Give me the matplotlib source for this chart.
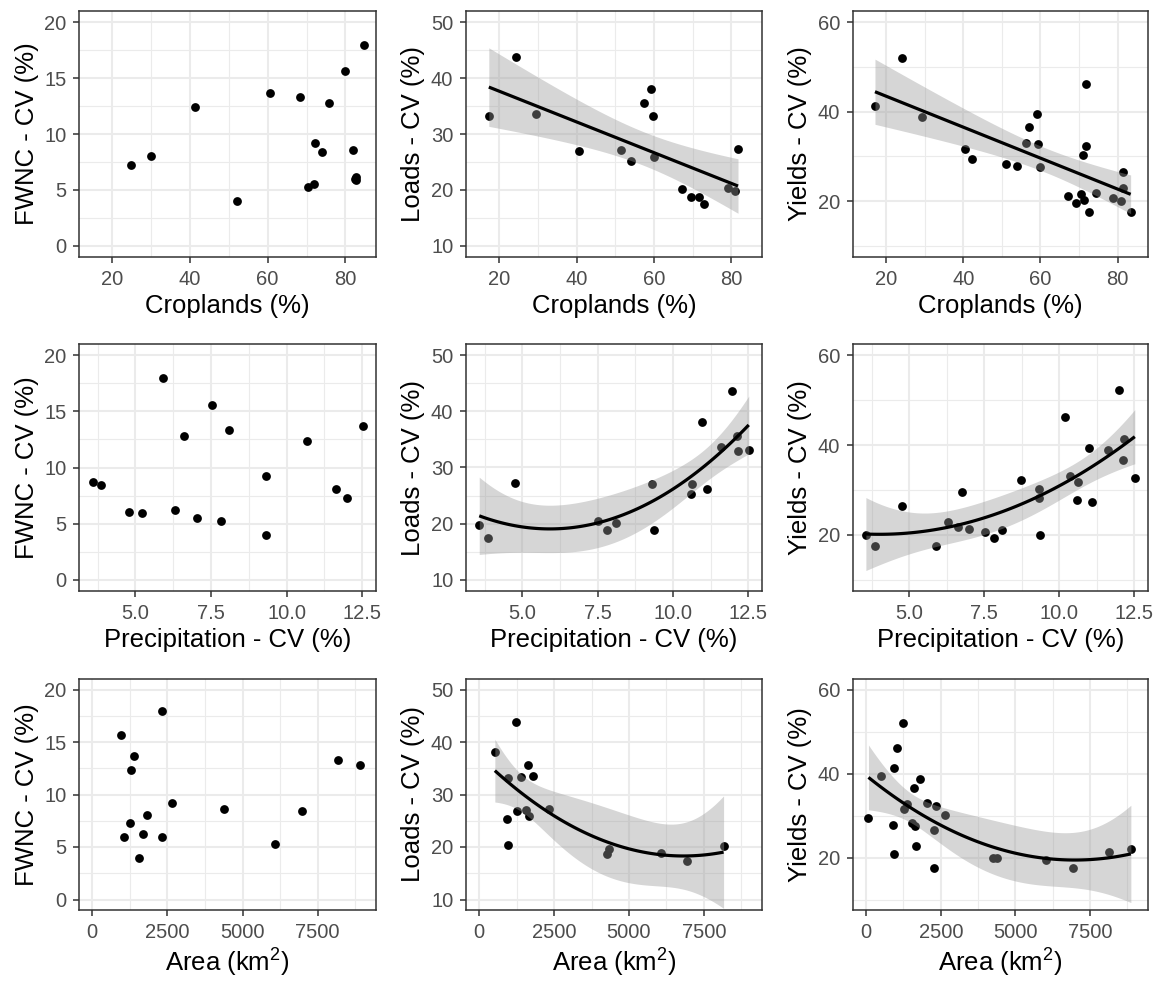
#!/usr/bin/env python3

import numpy as np
import matplotlib
matplotlib.use("Agg")
import matplotlib.pyplot as plt
from matplotlib.ticker import FixedLocator

plt.rcParams['font.family'] = ['Liberation Sans', 'DejaVu Sans']
plt.rcParams['mathtext.fontset'] = 'custom'
plt.rcParams['mathtext.rm'] = 'Liberation Sans'
plt.rcParams['mathtext.it'] = 'Liberation Sans'

# ---- data ----
# FWNC - CV (%)
fwnc_crop_x = [24.8, 30.0, 41.2, 52.2, 60.5, 68.3, 75.7, 80.0, 84.7, 72.2, 73.9, 81.9, 70.3, 72.0, 82.7, 82.7, 82.5]
fwnc_crop_y = [7.27, 8.04, 12.37, 3.98, 13.65, 13.32, 12.79, 15.61, 17.98, 9.2, 8.4, 8.6, 5.22, 5.52, 6.14, 5.9, 6.0]
fwnc_prec_x = [3.58, 3.86, 4.78, 5.20, 5.90, 6.31, 6.62, 7.03, 7.54, 7.84, 8.10, 9.32, 9.32, 10.67, 11.63, 12.0, 12.54]
fwnc_prec_y = [8.67, 8.4, 6.0, 5.95, 17.96, 6.2, 12.8, 5.53, 15.6, 5.24, 13.34, 9.23, 3.99, 12.4, 8.1, 7.28, 13.7]
fwnc_area_x = [971, 1060, 1250, 1283, 1395, 1540, 1674, 1808, 2310, 2310, 2667, 4397, 6082, 6975, 8191, 8906]
fwnc_area_y = [15.64, 5.94, 7.27, 12.35, 13.65, 3.95, 6.22, 8.06, 17.98, 5.97, 9.23, 8.6, 5.24, 8.4, 13.3, 12.8]

# Loads - CV (%)
loads_crop_x = [17.3, 24.3, 29.5, 40.7, 51.5, 54.0, 57.3, 59.3, 59.7, 60.1, 67.2, 69.5, 71.6, 73.0, 79.0, 81.0, 81.7]
loads_crop_y = [33.15, 43.7, 33.56, 26.97, 27.1, 25.1, 35.6, 38.1, 33.3, 25.9, 20.15, 18.8, 18.8, 17.4, 20.3, 19.85, 27.3]
loads_prec_x = [3.57, 3.86, 4.77, 7.53, 7.82, 8.10, 9.30, 9.37, 10.59, 10.65, 10.98, 11.13, 11.60, 11.98, 12.12, 12.17, 12.52]
loads_prec_y = [19.76, 17.4, 27.3, 20.5, 18.8, 20.2, 27.1, 18.8, 25.2, 27.1, 38.1, 26.1, 33.6, 43.7, 35.6, 33.0, 33.1]
loads_area_x = [523, 968, 913, 968, 1224, 1258, 1380, 1547, 1625, 1658, 1803, 2315, 4252, 4341, 6055, 6945, 8158]
loads_area_y = [38.1, 33.2, 25.3, 20.4, 43.9, 26.9, 33.4, 27.1, 35.6, 26.0, 33.6, 27.3, 18.7, 19.6, 18.85, 17.4, 20.1]

# Yields - CV (%)
yields_crop_x = [17.1, 24.1, 29.3, 40.4, 42.3, 51.2, 53.8, 56.3, 57.1, 59.1, 59.5, 60.0, 67.1, 69.1, 70.6,
                 71.1, 71.4, 71.7, 71.9, 72.6, 74.5, 78.7, 80.8, 81.5, 81.5, 83.4]
yields_crop_y = [41.26, 52.1, 38.8, 31.6, 29.5, 28.2, 27.9, 33.0, 36.6, 39.4, 32.7, 27.6, 21.2, 19.6, 21.6,
                 30.3, 20.2, 46.1, 32.3, 17.6, 21.9, 20.8, 20.0, 26.5, 23.0, 17.6]
yields_prec_x = [3.56, 3.86, 4.77, 5.88, 6.29, 6.63, 6.77, 7.0, 7.53, 7.82, 8.10, 8.72, 9.33, 9.33, 9.37,
                 10.21, 10.37, 10.59, 10.64, 10.98, 11.09, 11.62, 11.98, 12.16, 12.13, 12.52]
yields_prec_y = [20.0, 17.5, 26.5, 17.5, 22.8, 21.7, 29.5, 21.4, 20.7, 19.3, 21.0, 32.3, 30.3, 28.1, 20.0,
                 46.2, 33.0, 27.8, 31.7, 39.3, 27.4, 39.0, 52.2, 41.4, 36.7, 32.7]
yields_area_x = [78, 511, 889, 944, 944, 1044, 1222, 1255, 1378, 1522, 1611, 1644, 1667, 1800, 2033,
                 2289, 2289, 2344, 2644, 4233, 4378, 6022, 6933, 8133, 8866]
yields_area_y = [29.4, 39.3, 27.7, 41.2, 20.8, 46.1, 52.0, 31.6, 32.7, 28.2, 36.5, 27.4, 22.8, 38.7, 33.0,
                 26.5, 17.6, 32.3, 30.2, 20.0, 20.0, 19.3, 17.6, 21.2, 22.0]

x_labels = ['Croplands (%)', 'Precipitation - CV (%)', 'Area (km$^{2}$)']
y_labels = ['FWNC - CV (%)', 'Loads - CV (%)', 'Yields - CV (%)']

x_ticks = [[20, 40, 60, 80], [5.0, 7.5, 10.0, 12.5], [0, 2500, 5000, 7500]]
x_tick_labels = [['20', '40', '60', '80'], ['5.0', '7.5', '10.0', '12.5'], ['0', '2500', '5000', '7500']]
x_minor = [[30, 50, 70], [3.75, 6.25, 8.75, 11.25], [1250, 3750, 6250, 8750]]
x_lims = [(11.4, 87.9), (3.13, 12.96), (-440, 9440)]

y_ticks = [[0, 5, 10, 15, 20], [10, 20, 30, 40, 50], [20, 40, 60]]
y_minor = [[2.5, 7.5, 12.5, 17.5], [15, 25, 35, 45], [10, 30, 50]]
y_lims = [(-1, 21), (8, 52), (7.5, 62.5)]

# degree of geom_smooth fit (None = no fit)
fit_deg = [[None, 1, 1], [None, 2, 2], [None, 2, 2]]

panels = [
    [(fwnc_crop_x, fwnc_crop_y), (loads_crop_x, loads_crop_y), (yields_crop_x, yields_crop_y)],
    [(fwnc_prec_x, fwnc_prec_y), (loads_prec_x, loads_prec_y), (yields_prec_x, yields_prec_y)],
    [(fwnc_area_x, fwnc_area_y), (loads_area_x, loads_area_y), (yields_area_x, yields_area_y)],
]


def tq(df):
    # 97.5% t quantile (Cornish-Fisher expansion)
    z = 1.959964
    return z + (z**3 + z) / (4 * df) + (5 * z**5 + 16 * z**3 + 3 * z) / (96 * df**2)


def smooth(ax, x, y, deg):
    x = np.asarray(x, float)
    y = np.asarray(y, float)
    m, sd = x.mean(), x.std()
    X = np.vander((x - m) / sd, deg + 1)
    beta = np.linalg.lstsq(X, y, rcond=None)[0]
    n, p = X.shape
    res = y - X @ beta
    s2 = res @ res / (n - p)
    cov = np.linalg.inv(X.T @ X)
    xs = np.linspace(x.min(), x.max(), 100)
    Xs = np.vander((xs - m) / sd, deg + 1)
    fit = Xs @ beta
    se = np.sqrt(s2 * np.einsum('ij,jk,ik->i', Xs, cov, Xs))
    t = tq(n - p)
    ax.fill_between(xs, fit - t * se, fit + t * se, color='#999999', alpha=0.4, lw=0, zorder=3)
    ax.plot(xs, fit, color='black', lw=2.3, zorder=4, solid_capstyle='butt')


W, H = 1156, 982
fig = plt.figure(figsize=(W / 100, H / 100), dpi=100)

col_left = [79, 466, 853]
col_width = [297, 296, 295]
row_top = [11, 344, 679]
row_bottom = [257, 591, 910]

for r in range(3):
    for c in range(3):
        ax = fig.add_axes([col_left[c] / W, 1 - row_bottom[r] / H,
                           col_width[c] / W, (row_bottom[r] - row_top[r]) / H])
        x, y = panels[r][c]
        ax.scatter(x, y, s=40, color='black', lw=0, zorder=2)
        if fit_deg[r][c]:
            smooth(ax, x, y, fit_deg[r][c])

        ax.set_xlim(x_lims[r])
        ax.set_ylim(y_lims[c])
        ax.set_xticks(x_ticks[r])
        ax.set_xticklabels(x_tick_labels[r])
        ax.set_yticks(y_ticks[c])
        ax.xaxis.set_minor_locator(FixedLocator(x_minor[r]))
        ax.yaxis.set_minor_locator(FixedLocator(y_minor[c]))

        ax.set_axisbelow(True)
        ax.grid(which='major', color='#EBEBEB', lw=1.5)
        ax.grid(which='minor', color='#EBEBEB', lw=0.8)
        for sp in ax.spines.values():
            sp.set_color('#333333')
            sp.set_linewidth(1.1)
        ax.tick_params(which='major', length=4.3, width=1.1, color='#333333',
                       labelsize=14.5, labelcolor='#4D4D4D', pad=4.8)
        ax.tick_params(which='minor', length=0)

        ax.set_xlabel(x_labels[r], fontsize=18.5, labelpad=4)
        ax.set_ylabel(y_labels[c], fontsize=18.5, labelpad=4)

fig.savefig('out.png', dpi=100)
